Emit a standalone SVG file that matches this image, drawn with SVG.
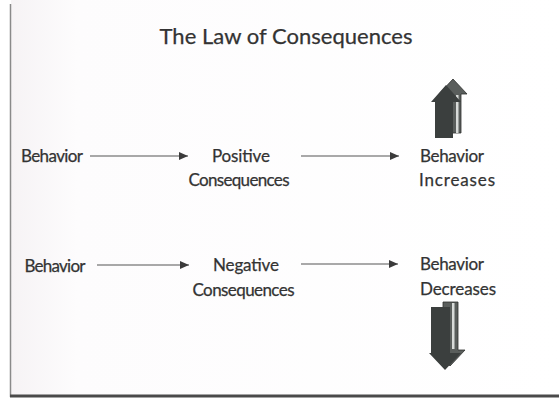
<svg xmlns="http://www.w3.org/2000/svg" width="559" height="399" viewBox="0 0 559 399">
<defs>
<marker id="ah" markerWidth="9" markerHeight="8" refX="9" refY="4" orient="auto" markerUnits="userSpaceOnUse">
<path d="M0,0 L9,4 L0,8 Z" fill="#3a3a3a"/>
</marker>
<linearGradient id="bg" x1="0" y1="0" x2="1" y2="0">
<stop offset="0" stop-color="#f6f3f5"/>
<stop offset="0.12" stop-color="#fdfcfd"/>
<stop offset="1" stop-color="#ffffff"/>
</linearGradient>
</defs>
<style>
text{font-family:Lato,"Open Sans","DejaVu Sans",sans-serif;fill:#333;stroke:#333;stroke-width:0.25;}
.t{font-size:17px;}
.title{font-size:22px;}
.conn{stroke:#555;stroke-width:1.2;fill:none;marker-end:url(#ah);}
.dark{fill:#3b3f3e;}
.back{fill:#5a5e5c;stroke:#2e302f;stroke-width:0.8;}
.stripe{fill:#d8dbd9;}
</style>
<rect x="0" y="0" width="559" height="399" fill="#ffffff"/>
<rect x="11" y="0" width="548" height="395" fill="url(#bg)"/>
<line x1="10.5" y1="4" x2="10.5" y2="397" stroke="#8a8a8a" stroke-width="1.5"/>
<line x1="10" y1="396" x2="559" y2="396" stroke="#4a4a4a" stroke-width="3"/>

<g id="title"><text class="title" x="286" y="44" text-anchor="middle" textLength="253">The Law of Consequences</text></g>

<g id="behavior1"><text class="t" x="52" y="162" text-anchor="middle" textLength="62">Behavior</text></g>
<g id="positive"><text class="t" x="241" y="162" text-anchor="middle" textLength="58">Positive</text><text class="t" x="239" y="186" text-anchor="middle" textLength="101">Consequences</text></g>
<g id="increases"><text class="t" x="452" y="162" text-anchor="middle" textLength="64">Behavior</text><text class="t" x="457" y="186" text-anchor="middle" textLength="76">Increases</text></g>

<g id="behavior2"><text class="t" x="55" y="272" text-anchor="middle" textLength="61">Behavior</text></g>
<g id="negative"><text class="t" x="246" y="271" text-anchor="middle" textLength="66">Negative</text><text class="t" x="243.5" y="296" text-anchor="middle" textLength="102">Consequences</text></g>
<g id="decreases"><text class="t" x="452" y="270" text-anchor="middle" textLength="64">Behavior</text><text class="t" x="458" y="295" text-anchor="middle" textLength="76">Decreases</text></g>

<g id="connectors">
<line class="conn" x1="90" y1="156" x2="188" y2="156"/>
<line class="conn" x1="301" y1="156" x2="399" y2="156"/>
<line class="conn" x1="97" y1="265" x2="189" y2="265"/>
<line class="conn" x1="301" y1="264" x2="398" y2="264"/>
</g>

<g id="up-arrow">
<path class="back" d="M445,133 L445,94 L439,94 L453,79 L467,94 L461,94 L461,133 Z"/>
<rect class="stripe" x="456" y="95" width="2.5" height="38"/>
<path class="dark" d="M435,138 L435,102 L431,102 L446,85 L461,102 L453,102 L453,138 Z"/>
</g>

<g id="down-arrow">
<path class="back" d="M443,302 L458,302 L458,350 L465,350 L450,366 L436,350 L443,350 Z"/>
<rect class="stripe" x="452" y="303" width="2.5" height="46"/>
<path class="dark" d="M431,307 L450,307 L450,353 L461,353 L445,370 L429,353 L431,353 Z"/>
</g>
</svg>
